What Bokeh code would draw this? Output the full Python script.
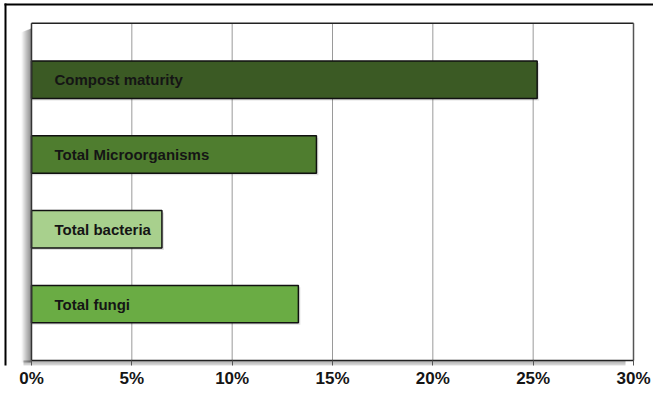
from bokeh.plotting import figure
from bokeh.models import ColumnDataSource, Range1d, FixedTicker, NumeralTickFormatter
from bokeh.core.properties import value
from bokeh.embed import file_html
from bokeh.resources import INLINE

categories = ["Compost maturity", "Total Microorganisms", "Total bacteria", "Total fungi"]
values = [0.252, 0.142, 0.065, 0.133]
colors = ["#3b5a24", "#4f7d2f", "#a8d08d", "#6aac44"]
tick_values = [0.0, 0.05, 0.10, 0.15, 0.20, 0.25, 0.30]

# ---- layout (pixels) ----
W, H = 653, 390
FL, FT, FR, FB = 31, 23, 633, 364      # plot area in canvas px
TICK = 5
FRAME_B = FB + TICK                    # bokeh frame bottom (axis sits here)
XMIN, XMAX = tick_values[0], tick_values[-1]
n = len(categories)
YLO, YHI = -0.755, (n - 1) + 0.755

xpp = (XMAX - XMIN) / (FR - FL)        # data per px (x)
ypp = (YHI - YLO) / (FB - FT)          # data per px (y)


def X(px):
    return XMIN + (px - FL) * xpp


def Y(py):
    return YLO + (FB - py) * ypp


ypos = [n - 1 - i for i in range(n)]
src = ColumnDataSource(dict(cat=categories, val=values, color=colors, y=ypos,
                            zero=[XMIN] * n))

p = figure(width=W, height=H, output_backend="svg", toolbar_location=None,
           x_range=Range1d(X(0), X(W)), y_range=Range1d(Y(FRAME_B), Y(0)),
           y_axis_location=None,
           min_border_left=0, min_border_right=0, min_border_top=0,
           min_border_bottom=H - FRAME_B)
p.outline_line_color = None
p.xgrid.visible = False
p.ygrid.visible = False
p.background_fill_color = "white"
p.border_fill_color = "white"

# outer chart border (left and top edges)
p.quad(left=[X(4)], right=[X(6)], top=[Y(3)], bottom=[Y(H)], fill_color="black",
       line_color=None)
p.quad(left=[X(4)], right=[X(W + 5)], top=[Y(3)], bottom=[Y(5)], fill_color="black",
       line_color=None)

# soft shadow left of and below the plot area
for i in range(10):
    a = 0.03 + 0.052 * i
    p.quad(left=[X(FL - 10 + i)], right=[X(FL - 9 + i)], top=[Y(FT + 9 - i * 0.4)],
           bottom=[Y(FB + 2)], fill_color="black", fill_alpha=a, line_color=None)
for j in range(TICK + 3):
    a = 0.34 - 0.045 * j
    p.quad(left=[X(FL - 8)], right=[X(FR - 8)], top=[Y(FB + j)], bottom=[Y(FB + j + 1)],
           fill_color="black", fill_alpha=max(a, 0.02), line_color=None)

# plot area
p.quad(left=[XMIN], right=[XMAX], bottom=[YLO], top=[YHI], fill_color="white",
       line_color=None)
p.segment(x0=tick_values, x1=tick_values, y0=[YLO] * len(tick_values),
          y1=[YHI] * len(tick_values), line_color="#9a9a9a", line_width=1)

# bar shadows and bars
p.hbar(y=[v - 2 * ypp for v in ypos], left=[XMIN] * n,
       right=[v + 2 * xpp for v in values], height=0.5,
       fill_color="black", fill_alpha=0.12, line_color=None)
p.hbar(y="y", left="zero", right="val", height=0.5, source=src,
       fill_color="color", line_color="#111111", line_width=1.5)

p.text(x="zero", y="y", text="cat", source=src, x_offset=23,
       text_font=value("Liberation Sans"), text_font_style="bold",
       text_font_size="15px", text_color="#151515", text_baseline="middle",
       text_align="left")

# plot area border
p.segment(x0=[XMIN, XMIN, XMAX, XMIN], x1=[XMAX, XMIN, XMAX, XMAX],
          y0=[YHI, YLO, YLO, YLO], y1=[YHI, YHI, YHI, YLO],
          line_color=["#222222", "#333333", "#555555", "#222222"], line_width=1.5)

ax = p.xaxis[0]
ax.bounds = (XMIN, XMAX)
ax.ticker = FixedTicker(ticks=tick_values)
ax.formatter = NumeralTickFormatter(format="0%")
ax.axis_line_color = None
ax.major_tick_in = TICK
ax.major_tick_out = 0
ax.major_tick_line_color = "#555555"
ax.minor_tick_line_color = None
ax.major_label_text_font = "Liberation Sans"
ax.major_label_text_font_style = "bold"
ax.major_label_text_font_size = "17px"
ax.major_label_text_color = "#151515"
ax.major_label_standoff = 3

open("out.html", "w").write(file_html(p, INLINE))
